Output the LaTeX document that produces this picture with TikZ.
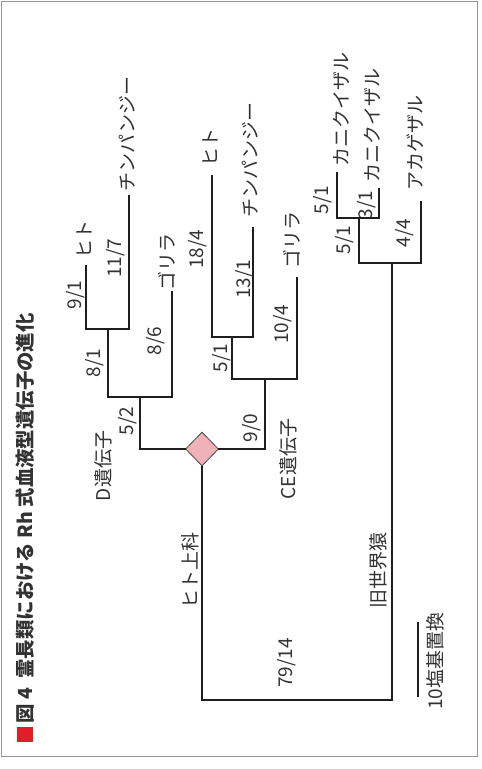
\documentclass[tikz,border=0pt]{standalone}
\usepackage{fontspec}
\setmainfont{Noto Sans CJK JP}
\newfontfamily\jpfont{Noto Sans CJK JP}
\usetikzlibrary{shapes.geometric}
\definecolor{txt}{RGB}{50,50,50}
\definecolor{ln}{RGB}{30,30,30}
\definecolor{framec}{RGB}{150,150,150}
\definecolor{dpink}{RGB}{238,178,184}
\definecolor{tred}{RGB}{225,30,40}
\newcommand{\lblsize}{\fontsize{19pt}{19pt}\selectfont}
\newcommand{\ttlsize}{\fontsize{19.4pt}{19.4pt}\selectfont\bfseries}
\tikzset{
  lbl/.style={rotate=90, inner sep=0pt, font=\jpfont\lblsize, text=txt},
  ttl/.style={rotate=90, inner sep=0pt, font=\jpfont\ttlsize, text=txt, anchor=west},
  br/.style={draw=ln, line width=1.25pt, line cap=rect},
  dup/.style={diamond, draw=ln!80, fill=dpink, line width=0.8pt, minimum width=33pt, minimum height=34pt, inner sep=0pt}
}
\begin{document}
\begin{tikzpicture}[x=1pt,y=-1pt]
\useasboundingbox (0,0) rectangle (482,769);
\fill[white] (0,0) rectangle (482,769);
\draw[framec, line width=1pt] (1,1) rectangle (477,756);
% title
\fill[tred] (17,727) rectangle (33,742);
\node[ttl] (title) at (25,724) {図 4\hspace{0.5em}霊長類における Rh 式血液型遺伝子の進化};
% duplication diamond
\node[dup] (dup) at (202,449) {};
% D gene clade
\coordinate (d0) at (140,449);
\coordinate (d1) at (140,397);
\coordinate (d1a) at (108,397);
\coordinate (d1b) at (172,397);
\coordinate (d2) at (108,329);
\coordinate (d2a) at (86,329);
\coordinate (d2b) at (129,329);
\coordinate (dHuman) at (86,266);
\coordinate (dChimp) at (129,196);
\coordinate (dGor) at (172,292);
\draw[br] (dup.west) -- (d0) -- (d1);
\draw[br] (d1a) -- (d1b);
\draw[br] (d1a) -- (d2);
\draw[br] (d2a) -- (d2b);
\draw[br] (d2a) -- (dHuman);
\draw[br] (d2b) -- (dChimp);
\draw[br] (d1b) -- (dGor);
% CE gene clade
\coordinate (c0) at (265,449);
\coordinate (c1) at (265,379);
\coordinate (c1a) at (232,379);
\coordinate (c1b) at (297,379);
\coordinate (c2) at (232,337);
\coordinate (c2a) at (212,337);
\coordinate (c2b) at (253,337);
\coordinate (cHuman) at (212,176);
\coordinate (cChimp) at (253,228);
\coordinate (cGor) at (297,278);
\draw[br] (dup.east) -- (c0) -- (c1);
\draw[br] (c1a) -- (c1b);
\draw[br] (c1a) -- (c2);
\draw[br] (c2a) -- (c2b);
\draw[br] (c2a) -- (cHuman);
\draw[br] (c2b) -- (cChimp);
\draw[br] (c1b) -- (cGor);
% root and Old World monkeys
\coordinate (r0) at (202,700);
\coordinate (r1) at (392,700);
\coordinate (o0) at (392,263);
\coordinate (o0a) at (359,263);
\coordinate (o0b) at (421,263);
\coordinate (o1) at (359,218);
\coordinate (o1a) at (337,218);
\coordinate (o1b) at (379,218);
\coordinate (oCrab1) at (337,173);
\coordinate (oCrab2) at (379,189);
\coordinate (oRhe) at (421,202);
\draw[br] (dup.south) -- (r0) -- (r1) -- (o0);
\draw[br] (o0a) -- (o0b);
\draw[br] (o0a) -- (o1);
\draw[br] (o1a) -- (o1b);
\draw[br] (o1a) -- (oCrab1);
\draw[br] (o1b) -- (oCrab2);
\draw[br] (o0b) -- (oRhe);
% leaf labels
\node[lbl] (tH1) at (84,239) {ヒト};
\node[lbl] (tC1) at (127,134) {チンパンジー};
\node[lbl] (tG1) at (167,262) {ゴリラ};
\node[lbl] (tH2) at (210,147) {ヒト};
\node[lbl] (tC2) at (250,160) {チンパンジー};
\node[lbl] (tG2) at (292,240) {ゴリラ};
\node[lbl] (tK1) at (341,109) {カニクイザル};
\node[lbl] (tK2) at (372,125) {カニクイザル};
\node[lbl] (tA) at (415,143) {アカゲザル};
% branch labels
\node[lbl] (b91) at (76,295) {9/1};
\node[lbl] (b117) at (116,258) {11/7};
\node[lbl] (b81) at (95,363) {8/1};
\node[lbl] (b86) at (156,341) {8/6};
\node[lbl] (b52) at (128,421) {5/2};
\node[lbl] (b184) at (198,249) {18/4};
\node[lbl] (b131) at (245,279) {13/1};
\node[lbl] (b51c) at (222,358) {5/1};
\node[lbl] (b104) at (283,324) {10/4};
\node[lbl] (b90) at (252,428) {9/0};
\node[lbl] (b7914) at (287,663) {79/14};
\node[lbl] (b51u) at (323,200) {5/1};
\node[lbl] (b31) at (367,205) {3/1};
\node[lbl] (b51l) at (345,240) {5/1};
\node[lbl] (b44) at (405,233) {4/4};
% group labels
\node[lbl] (gD) at (103,466) {D遺伝子};
\node[lbl] (gCE) at (288,459) {CE遺伝子};
\node[lbl] (gHom) at (190,570) {ヒト上科};
\node[lbl] (gOWM) at (378,570) {旧世界猿};
% scale bar
\coordinate (s0) at (418,622);
\coordinate (s1) at (418,697);
\draw[br, line cap=butt] (s0) -- (s1);
\node[lbl] (scale) at (435,661) {10塩基置換};
\end{tikzpicture}
\end{document}
